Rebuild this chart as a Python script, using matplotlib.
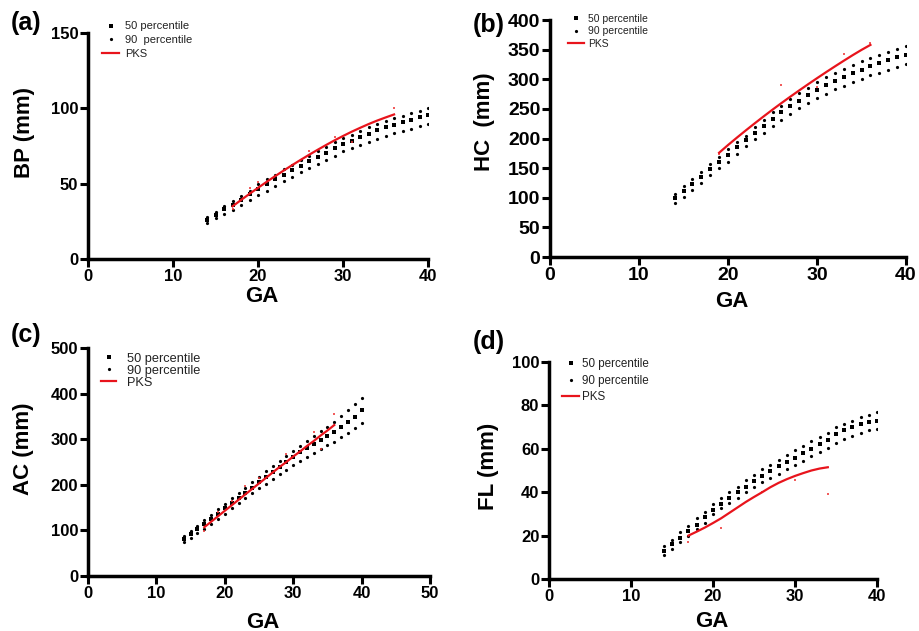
import matplotlib
matplotlib.use("Agg")
import matplotlib.pyplot as plt

plt.rcParams['font.family'] = ['Liberation Sans', 'DejaVu Sans']

# ---------------- reference percentile data ----------------
ga = list(range(14, 41))

bp_p90 = [28, 31.5, 35, 38.5, 42, 45.5, 49.5, 53, 56, 59.5, 62.5, 65.5, 68.5, 71.5,
          74.5, 77.5, 80.5, 82.5, 85, 87.5, 89.5, 91.5, 93.5, 95, 97, 98.5, 100]
bp_p50 = [26, 29.5, 33, 36, 39.5, 43, 46.5, 50, 53, 56, 59, 62, 65, 68,
          70.5, 73.5, 76.5, 78.5, 81, 83, 85.5, 87.5, 89, 91, 92.5, 94, 95.5]
bp_low = [24, 27, 30, 32.5, 36, 39.5, 42.5, 45.5, 48.5, 51.5, 54.5, 57.5, 60.5, 63,
          66, 68.5, 71.5, 73.5, 75.5, 77.5, 79.5, 81.5, 83.5, 85, 86.5, 88, 89.5]

hc_p90 = [107, 119, 131, 144, 157, 169, 182, 194, 205, 219, 232, 244, 255, 266,
          276, 286, 295, 303, 310, 317, 324, 330, 336, 341, 346, 351, 356]
hc_p50 = [100, 111, 123, 135, 149, 161, 173, 185, 197, 209, 221, 233, 244, 255,
          264, 273, 282, 290, 297, 304, 310, 316, 322, 327, 332, 337, 341]
hc_low = [91, 102, 113, 125, 138, 150, 161, 174, 187, 199, 210, 221, 232, 242,
          251, 260, 268, 275, 283, 289, 296, 301, 307, 311, 315, 320, 325]

ac_p90 = [88, 99, 110, 122, 134, 146, 158, 170, 182, 194, 206, 218, 230, 241,
          252, 263, 273, 284, 295, 306, 317, 327, 338, 351, 364, 377, 390]
ac_p50 = [82, 92, 103, 114, 125, 137, 148, 160, 171, 183, 194, 206, 217, 228,
          239, 250, 261, 271, 280, 289, 298, 307, 316, 327, 338, 349, 364]
ac_low = [74, 84, 94, 104, 115, 126, 137, 148, 159, 170, 181, 192, 202, 213,
          223, 233, 243, 252, 261, 270, 279, 287, 294, 304, 313, 324, 335]

fl_p90 = [15, 18, 21.5, 24.5, 28, 31, 34.6, 37.5, 40, 42.5, 45.5, 47.9, 50.5, 52.5,
          55, 57, 59.4, 61.5, 63.5, 65.5, 67.5, 69.9, 71.5, 73, 74.5, 75.8, 76.8]
fl_p50 = [13, 16, 19, 22, 25, 28.5, 32, 34.5, 37.5, 40, 42.5, 45.3, 47.5, 50,
          52, 54, 55.6, 58, 60, 62, 64, 66.8, 68.5, 70, 71.5, 72.5, 73]
fl_low = [11, 14, 17, 20, 23, 26, 30, 32.5, 35, 37.5, 40, 42.5, 44.5, 46.5,
          48.5, 50.5, 52.5, 54.5, 56.5, 58.5, 60.5, 62.8, 64.5, 66, 67.5, 68.5, 69]

# ---------------- PKS fitted curves ----------------
bp_fit_ga = list(range(17, 37))
bp_fit = [35, 39.2, 43.3, 47.3, 51.2, 55.0, 58.7, 62.3, 65.8, 69.2, 72.5, 75.7,
          78.8, 81.7, 84.5, 87.1, 89.6, 91.9, 94.0, 96.0]
hc_fit_ga = list(range(19, 37))
hc_fit = [176, 189, 201.5, 213.7, 225.6, 237.3, 248.7, 259.8, 270.6, 281.2, 291.6,
          301.8, 311.8, 321.6, 331.2, 340.6, 349.6, 358]
ac_fit_ga = list(range(17, 37))
ac_fit = [107, 119, 131, 143, 155, 167, 179, 191, 203, 215, 227, 239, 250, 262,
          273, 285, 296, 308, 319, 331]
fl_fit_ga = list(range(17, 35))
fl_fit = [20, 21.8, 23.7, 25.8, 28, 30.5, 33, 35.5, 37.8, 40, 42.3, 44.3, 46,
          47.5, 48.8, 50, 50.9, 51.5]

# ---------------- PKS measured points ----------------
bp_pts_ga = [17, 19, 19, 20, 26, 29, 31, 36]
bp_pts = [33, 47, 44, 51, 72, 81, 78, 100]
hc_pts_ga = [19, 26, 30, 33, 36]
hc_pts = [174, 290, 287, 342, 362]
ac_pts_ga = [17, 19, 21, 23, 25, 29, 33, 34, 36]
ac_pts = [98, 140, 165, 197, 215, 268, 316, 278, 355]
fl_pts_ga = [17, 21, 26, 30, 34]
fl_pts = [17, 23.7, 40, 45.6, 39]

panels = [
    dict(tag='(a)', ylab='BP (mm)', p90=bp_p90, p50=bp_p50, low=bp_low,
         fga=bp_fit_ga, fit=bp_fit, pga=bp_pts_ga, pts=bp_pts,
         rect=[0.0958, 0.5895, 0.370, 0.358], xmax=40, ymax=150, ystep=50,
         tick=12, xl=(0.512, -0.168), yl=(-0.188, 0.562), lab=(0.0283, 0.9635),
         leg=dict(loc=(0.111, 0.966), fs=8, sp=0.35, hl=1.56, pad=0.53),
         names=['50 percentile', '90  percentile', 'PKS']),
    dict(tag='(b)', ylab='HC  (mm)', p90=hc_p90, p50=hc_p50, low=hc_low,
         fga=hc_fit_ga, fit=hc_fit, pga=hc_pts_ga, pts=hc_pts,
         rect=[0.5985, 0.5927, 0.3874, 0.3756], xmax=40, ymax=400, ystep=50,
         tick=14, xl=(0.511, -0.186), yl=(-0.185, 0.57), lab=(0.532, 0.960),
         leg=dict(loc=(0.618, 0.978), fs=7.5, sp=0.25, hl=1.57, pad=0.4),
         names=['50 percentile', '90 percentile', 'PKS']),
    dict(tag='(c)', ylab='AC (mm)', p90=ac_p90, p50=ac_p50, low=ac_low,
         fga=ac_fit_ga, fit=ac_fit, pga=ac_pts_ga, pts=ac_pts,
         rect=[0.0958, 0.0872, 0.3721, 0.3613], xmax=50, ymax=500, ystep=100,
         tick=12, xl=(0.512, -0.202), yl=(-0.19, 0.557), lab=(0.0283, 0.469),
         leg=dict(loc=(0.110, 0.441), fs=9.2, sp=0.0, hl=1.2, pad=0.8),
         names=['50 percentile', '90 percentile', 'PKS']),
    dict(tag='(d)', ylab='FL (mm)', p90=fl_p90, p50=fl_p50, low=fl_low,
         fga=fl_fit_ga, fit=fl_fit, pga=fl_pts_ga, pts=fl_pts,
         rect=[0.5974, 0.0824, 0.3569, 0.3439], xmax=40, ymax=100, ystep=20,
         tick=12, xl=(0.497, -0.198), yl=(-0.186, 0.521), lab=(0.532, 0.458),
         leg=dict(loc=(0.612, 0.432), fs=8.4, sp=0.37, hl=1.4, pad=0.3),
         names=['50 percentile', '90 percentile', 'PKS']),
]

fig = plt.figure(figsize=(9.19, 6.31), dpi=100)

for p in panels:
    ax = fig.add_axes(p['rect'])
    h50, = ax.plot(ga, p['p50'], 's', color='black', ms=2.4, mew=0, label=p['names'][0])
    h90, = ax.plot(ga, p['p90'], 'o', color='black', ms=2.3, mew=0, label=p['names'][1])
    ax.plot(ga, p['low'], 'o', color='black', ms=2.3, mew=0)
    ax.plot(p['pga'], p['pts'], 's', color='#ee3333', ms=1.9, mew=0, alpha=0.8)
    hfit, = ax.plot(p['fga'], p['fit'], '-', color='#e8141c', lw=1.6, label=p['names'][2])

    ax.set_xlim(0, p['xmax'])
    ax.set_ylim(0, p['ymax'])
    ax.set_xticks(range(0, p['xmax'] + 1, 10))
    ax.set_yticks(range(0, p['ymax'] + 1, p['ystep']))
    for s in ['top', 'right']:
        ax.spines[s].set_visible(False)
    for s in ['left', 'bottom']:
        ax.spines[s].set_linewidth(2.5)
    ax.tick_params(width=2.2, length=5.5, labelsize=p['tick'], pad=1.5)
    for t in ax.get_xticklabels() + ax.get_yticklabels():
        t.set_fontweight('bold')

    ax.set_xlabel('GA', fontsize=16, fontweight='bold')
    ax.set_ylabel(p['ylab'], fontsize=16, fontweight='bold')
    ax.xaxis.set_label_coords(*p['xl'])
    ax.yaxis.set_label_coords(*p['yl'])
    ax.xaxis.label.set_va('center')
    ax.yaxis.label.set_va('center')

    lg = p['leg']
    ax.legend(handles=[h50, h90, hfit], loc='upper left', bbox_to_anchor=lg['loc'],
              bbox_transform=fig.transFigure, frameon=False, fontsize=lg['fs'],
              labelspacing=lg['sp'], handlelength=lg['hl'], handletextpad=lg['pad'],
              borderpad=0, borderaxespad=0, markerscale=1.0, labelcolor='#222222')

    fig.text(p['lab'][0], p['lab'][1], p['tag'], fontsize=18, fontweight='bold',
             ha='center', va='center')

fig.savefig('out.png', dpi=100)
